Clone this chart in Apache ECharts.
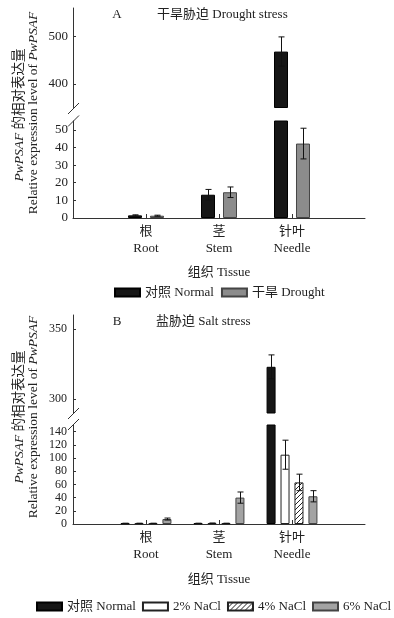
<!DOCTYPE html>
<html>
<head>
<meta charset="utf-8">
<script src="https://cdn.jsdelivr.net/npm/echarts@6/dist/echarts.min.js"></script>
<style>
html, body { margin: 0; padding: 0; background: #fff; }
#main { width: 394px; height: 618px; }
</style>
</head>
<body>
<div id="main"></div>
<script>
var tissues = ['根\nRoot', '茎\nStem', '针叶\nNeedle'];

// A 干旱胁迫
var aNames = ['对照 Normal', '干旱 Drought'];
var aNormal = [1.5, 13.2, 468];
var aNormalSd = [0.3, 3.0, 31];
var aDrought = [1.3, 14.6, 42.2];
var aDroughtSd = [0.3, 3.0, 8.7];

// B 盐胁迫
var bNames = ['对照 Normal', '2% NaCl', '4% NaCl', '6% NaCl'];
var bNormal = [1.0, 1.0, 323];
var bNormalSd = [0.2, 0.2, 8.5];
var bNaCl2 = [1.0, 1.2, 105];
var bNaCl2Sd = [0.2, 0.2, 22];
var bNaCl4 = [1.0, 1.0, 63];
var bNaCl4Sd = [0.2, 0.2, 12.5];
var bNaCl6 = [7.5, 40, 42];
var bNaCl6Sd = [1.5, 8.5, 8.5];

// tick labels
var aTicksHigh = [400, 500];
var aTicksLow = [0, 10, 20, 30, 40, 50];
var bTicksHigh = [300, 350];
var bTicksLow = [0, 20, 40, 60, 80, 100, 120, 140];

var FONT = "'Liberation Serif', 'Noto Sans CJK SC', serif";
var TXT = '#222';

var dom = document.getElementById('main');
var myChart = echarts.init(dom, null, { renderer: 'canvas' });

// 斜线填充
var hatch = document.createElement('canvas');
hatch.width = 5; hatch.height = 5;
var hc = hatch.getContext('2d');
hc.fillStyle = '#fff'; hc.fillRect(0, 0, 5, 5);
hc.strokeStyle = '#222'; hc.lineWidth = 1;
hc.beginPath();
hc.moveTo(0, 5); hc.lineTo(5, 0);
hc.moveTo(-1, 1); hc.lineTo(1, -1);
hc.moveTo(4, 6); hc.lineTo(6, 4);
hc.stroke();

var cats = [''].concat(tissues).concat(['']);
function pad(arr) { return [null].concat(arr).concat([null]); }

// axis ranges (high part / low part of each broken axis)
var ranges = [[350, 560], [0, 55], [290, 360], [0, 150]];
var tickVals = [aTicksHigh, aTicksLow, bTicksHigh, bTicksLow];

var grids = [
    { left: 73, right: 29, top: 8, height: 99.5 },
    { left: 73, right: 29, top: 121, height: 97 },
    { left: 73, right: 29, top: 315, height: 98 },
    { left: 73, right: 29, top: 425, height: 99 }
];

var xAxes = [], yAxes = [];
for (var g = 0; g < 4; g++) {
    var low = (g % 2 === 1);
    xAxes.push({
        gridIndex: g,
        type: 'category',
        data: cats,
        boundaryGap: false,
        axisLine: { show: low, lineStyle: { color: '#333', width: 1 } },
        axisTick: {
            show: low, inside: true, length: 4,
            interval: function (i) { return i > 0 && i < 4; },
            lineStyle: { color: '#333' }
        },
        axisLabel: {
            show: low, margin: 5, fontFamily: FONT, fontSize: 13, lineHeight: 17, color: TXT,
            interval: 0
        },
        name: low ? '组织 Tissue' : '',
        nameLocation: 'middle',
        nameGap: g === 1 ? 48 : 49,
        nameTextStyle: { fontFamily: FONT, fontSize: 13, color: TXT },
        splitLine: { show: false }
    });
    yAxes.push({
        gridIndex: g,
        type: 'value',
        min: ranges[g][0],
        max: ranges[g][1],
        axisLine: { show: true, lineStyle: { color: '#333', width: 1 } },
        axisTick: { show: true, inside: true, length: 3, customValues: tickVals[g], lineStyle: { color: '#333' } },
        axisLabel: {
            customValues: tickVals[g], margin: g < 2 ? 5 : 6,
            fontFamily: FONT, fontSize: g < 2 ? 13 : 12, color: TXT
        },
        splitLine: { show: false }
    });
}

var series = [];

function addGroup(gridPair, names, means, sds, styles, barWidth, barGap) {
    var n = means.length;
    var spacing = barWidth * (1 + barGap);
    gridPair.forEach(function (gi, k) {
        var r = ranges[gi];
        for (var s = 0; s < n; s++) {
            var vals = means[s].map(function (v) { return (k === 0 && v < r[0]) ? null : v; });
            series.push({
                name: names[s],
                type: 'bar',
                xAxisIndex: gi, yAxisIndex: gi,
                data: pad(vals),
                barWidth: barWidth,
                barGap: (barGap * 100) + '%',
                clip: true,
                silent: true,
                itemStyle: styles[s]
            });
            var offset = (s - (n - 1) / 2) * spacing;
            var ed = [];
            means[s].forEach(function (m, i) {
                if (m >= r[0] && m <= r[1]) ed.push([i + 1, m, sds[s][i]]);
            });
            series.push({
                type: 'custom',
                name: 'err' + gi + '_' + s,
                xAxisIndex: gi, yAxisIndex: gi,
                z: 5, silent: true,
                data: ed,
                renderItem: (function (off) {
                    return function (params, api) {
                        var x = api.value(0), m = api.value(1), sd = api.value(2);
                        var top = api.coord([x, m + sd]);
                        var bot = api.coord([x, m - sd]);
                        var cx = Math.round(top[0] + off) + 0.5;
                        var st = { stroke: '#111', lineWidth: 1 };
                        return {
                            type: 'group',
                            children: [
                                { type: 'line', shape: { x1: cx, y1: top[1], x2: cx, y2: bot[1] }, style: st },
                                { type: 'line', shape: { x1: cx - 3, y1: top[1], x2: cx + 3, y2: top[1] }, style: st },
                                { type: 'line', shape: { x1: cx - 3, y1: bot[1], x2: cx + 3, y2: bot[1] }, style: st }
                            ]
                        };
                    };
                })(offset)
            });
        }
    });
}

var blackStyle = { color: '#161616', borderColor: '#000', borderWidth: 1 };
addGroup([0, 1], aNames, [aNormal, aDrought], [aNormalSd, aDroughtSd],
    [blackStyle, { color: '#8c8c8c', borderColor: '#444', borderWidth: 1 }], 14, 0.57);
addGroup([2, 3], bNames, [bNormal, bNaCl2, bNaCl4, bNaCl6], [bNormalSd, bNaCl2Sd, bNaCl4Sd, bNaCl6Sd],
    [blackStyle,
     { color: '#fff', borderColor: '#222', borderWidth: 1 },
     { color: { image: hatch, repeat: 'repeat' }, borderColor: '#222', borderWidth: 1 },
     { color: '#a3a3a3', borderColor: '#444', borderWidth: 1 }], 9, 0.55);

function vText(x, y, text) {
    return {
        type: 'text', x: x, y: y, rotation: Math.PI / 2,
        style: {
            text: text, align: 'center', verticalAlign: 'middle',
            textAlign: 'center', textVerticalAlign: 'middle',
            fontFamily: FONT, fontSize: 13.5, fill: TXT,
            rich: {
                i: { fontFamily: FONT, fontSize: 13.5, fontStyle: 'italic', fill: TXT },
                n: { fontFamily: FONT, fontSize: 13.5, fill: TXT }
            }
        }
    };
}
function hText(x, y, text, align) {
    return {
        type: 'text', x: x, y: y,
        style: {
            text: text, align: align, verticalAlign: 'middle',
            textAlign: align, textVerticalAlign: 'middle',
            fontFamily: FONT, fontSize: 13, fill: TXT
        }
    };
}
function slash(x1, y1, x2, y2) {
    return { type: 'line', shape: { x1: x1, y1: y1, x2: x2, y2: y2 }, style: { stroke: '#333', lineWidth: 1 } };
}

option = {
    backgroundColor: '#fff',
    animation: false,
    grid: grids,
    xAxis: xAxes,
    yAxis: yAxes,
    legend: [
        {
            data: aNames, left: 114, top: 286, padding: 0, width: 300,
            itemWidth: 25, itemHeight: 8, itemGap: 7, icon: 'rect', selectedMode: false,
            textStyle: { fontFamily: FONT, fontSize: 13, color: TXT }
        },
        {
            data: bNames, left: 36, top: 600, padding: 0, width: 380,
            itemWidth: 25, itemHeight: 8, itemGap: 6, icon: 'rect', selectedMode: false,
            textStyle: { fontFamily: FONT, fontSize: 13, color: TXT }
        }
    ],
    graphic: [
        hText(117, 15, 'A', 'center'),
        hText(157, 15, '干旱胁迫 Drought stress', 'left'),
        hText(117, 321.5, 'B', 'center'),
        hText(156, 321.5, '盐胁迫 Salt stress', 'left'),
        vText(19, 115, '{i|PwPSAF}{n| 的相对表达量}'),
        vText(33, 113, '{n|Relative expression level of }{i|PwPSAF}'),
        vText(19, 417, '{i|PwPSAF}{n| 的相对表达量}'),
        vText(33, 417, '{n|Relative expression level of }{i|PwPSAF}'),
        slash(68, 114, 79, 103),
        slash(68, 126.5, 79, 115.5),
        slash(68, 419, 79, 408),
        slash(68, 430, 79, 419)
    ],
    series: series
};
myChart.setOption(option);
</script>
</body>
</html>
